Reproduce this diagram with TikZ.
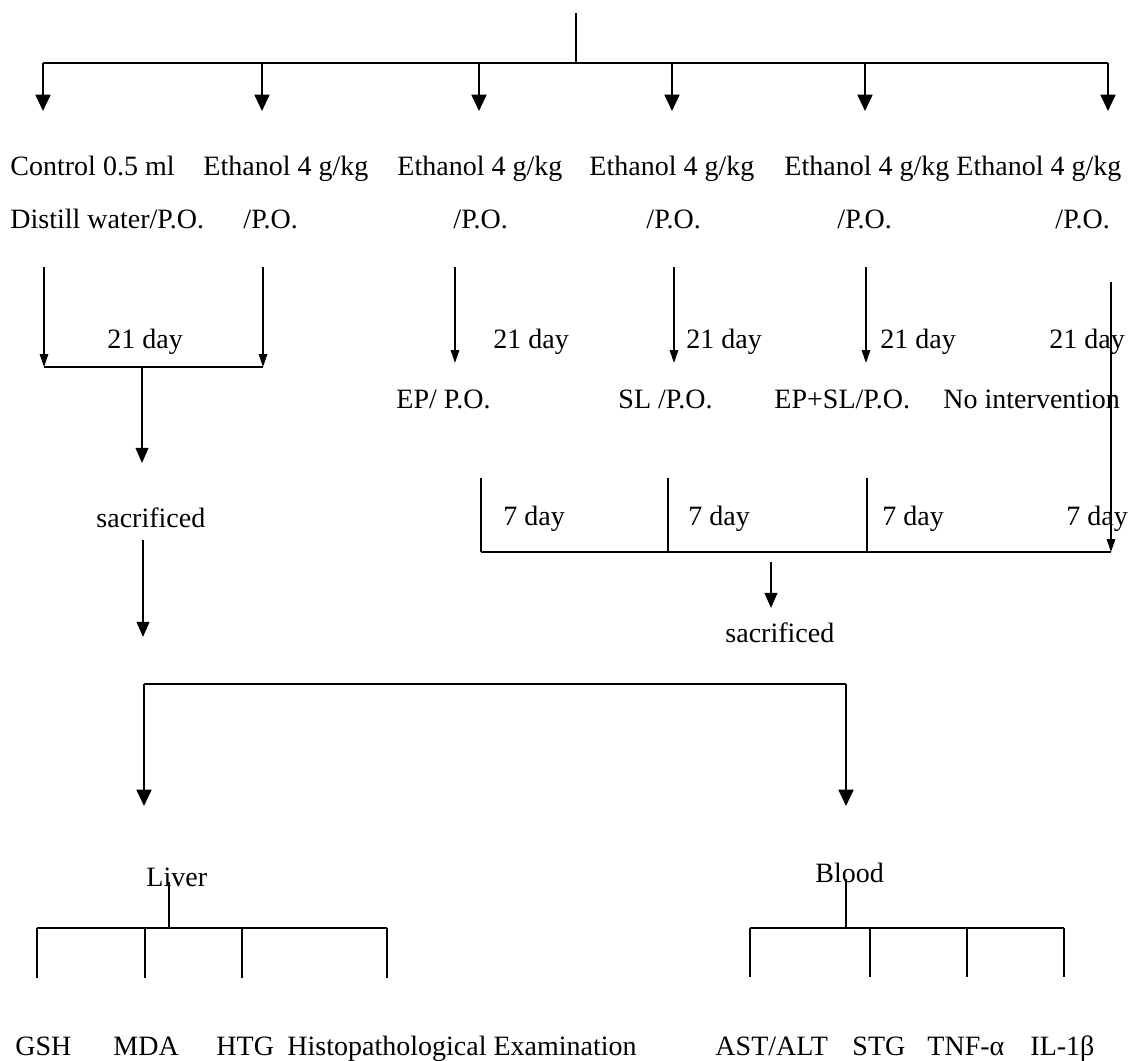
\documentclass[tikz,border=0pt]{standalone}
\usepackage{fontspec}
\setmainfont{Liberation Serif}
\usetikzlibrary{arrows.meta}

\begin{document}
\begin{tikzpicture}[
  x=0.4286pt,y=-0.4286pt,
  lbl/.style={font=\fontsize{12}{14}\selectfont,inner sep=0pt,anchor=base west},
  wire/.style={draw=black,line width=0.6pt},
  bar/.style={draw=black,line width=0.9pt},
  bigarr/.style={bar,-{Triangle[length=7pt,width=6.4pt]}},
  midarr/.style={wire,-{Triangle[length=6.5pt,width=5.5pt]}},
  tinyarr/.style={wire,-{Triangle[length=5.5pt,width=3.6pt]}}
]
\useasboundingbox (0,0) rectangle (1129,1061);

% split into six groups
\coordinate (root) at (576,13);
\coordinate (hub) at (576,63);
\draw[bar] (root) -- (hub);
\foreach \n/\x in {a/43,b/262,c/479,d/672,e/865,f/1108} {
  \coordinate (top\n) at (\x,63);
  \coordinate (tip\n) at (\x,111);
  \draw[bigarr] (top\n) -- (tip\n);
}
\draw[bar] (topa) -- (topf);

\node[lbl] (ctrlA) at (10,176) {Control 0.5 ml};
\node[lbl] (ctrlB) at (10,228) {Distill water/P.O.};
\foreach \n/\x/\y in {b/203/243,c/397/453,d/589/646,e/784/837,f/956/1055} {
  \node[lbl] (eth\n) at (\x,176) {Ethanol 4 g/kg};
  \node[lbl] (po\n) at (\y,228) {/P.O.};
}

% control + ethanol only
\coordinate (ca) at (44,267);
\coordinate (cb) at (263,267);
\coordinate (ca1) at (44,367);
\coordinate (cb1) at (263,367);
\draw[tinyarr] (ca) -- (ca1);
\draw[tinyarr] (cb) -- (cb1);
\draw[wire] (ca1) -- (cb1);
\node[lbl] (dayL) at (107,348) {21 day};
\coordinate (cmid) at (142,367);
\coordinate (ctip) at (142,463);
\draw[midarr] (cmid) -- (ctip);
\node[lbl] (sacL) at (96,527) {sacrificed};
\coordinate (sout) at (143,540);
\coordinate (stip) at (143,637);
\draw[midarr] (sout) -- (stip);

% treated groups
\foreach \n/\x in {ep/455,sl/674,es/866} {
  \coordinate (\n0) at (\x,267);
  \coordinate (\n1) at (\x,363);
  \draw[tinyarr] (\n0) -- (\n1);
}
\coordinate (ni0) at (1111,282);
\coordinate (ni1) at (1111,552);
\draw[tinyarr] (ni0) -- (ni1);
\foreach \n/\x in {ep/493,sl/686,es/880,ni/1049}
  \node[lbl] (day\n) at (\x,348) {21 day};
\node[lbl] (trtep) at (396,408) {EP/ P.O.};
\node[lbl] (trtsl) at (618,408) {SL /P.O.};
\node[lbl] (trtes) at (774,408) {EP+SL/P.O.};
\node[lbl] (trtni) at (943,408) {No intervention};

% 7 day bracket
\foreach \n/\x in {p/481,q/668,r/867} {
  \coordinate (tk\n) at (\x,478);
  \coordinate (bt\n) at (\x,552);
  \draw[wire] (tk\n) -- (bt\n);
}
\draw[wire] (btp) -- (ni1);
\foreach \n/\x in {p/503,q/688,r/882,s/1066}
  \node[lbl] (week\n) at (\x,525) {7 day};
\coordinate (wout) at (771,562);
\coordinate (wtip) at (771,608);
\draw[midarr] (wout) -- (wtip);
\node[lbl] (sacR) at (725,642) {sacrificed};

% samples
\coordinate (sl) at (144,684);
\coordinate (sr) at (846,684);
\coordinate (sl1) at (144,806);
\coordinate (sr1) at (846,806);
\draw[bar] (sl) -- (sr);
\draw[bigarr] (sl) -- (sl1);
\draw[bigarr] (sr) -- (sr1);
\node[lbl] (liver) at (146,886) {Liver};
\node[lbl] (blood) at (815,882) {Blood};

\coordinate (lv0) at (169,882);
\coordinate (lv1) at (169,928);
\draw[wire] (lv0) -- (lv1);
\coordinate (bd0) at (846,879);
\coordinate (bd1) at (846,928);
\draw[wire] (bd0) -- (bd1);
\foreach \n/\x in {1/37,2/145,3/242,4/387} {
  \coordinate (lk\n) at (\x,928);
  \coordinate (lj\n) at (\x,978);
  \draw[wire] (lk\n) -- (lj\n);
}
\draw[wire] (lk1) -- (lk4);
\foreach \n/\x in {1/750,2/870,3/967,4/1064} {
  \coordinate (bk\n) at (\x,928);
  \coordinate (bj\n) at (\x,977);
  \draw[wire] (bk\n) -- (bj\n);
}
\draw[wire] (bk1) -- (bk4);

\node[lbl] (gsh) at (15,1055) {GSH};
\node[lbl] (mda) at (113,1055) {MDA};
\node[lbl] (htg) at (216,1055) {HTG};
\node[lbl] (histo) at (287,1055) {Histopathological Examination};
\node[lbl] (ast) at (715,1055) {AST/ALT};
\node[lbl] (stg) at (852,1055) {STG};
\node[lbl] (tnf) at (927,1055) {TNF-α};
\node[lbl] (il) at (1030,1055) {IL-1β};
\end{tikzpicture}
\end{document}
